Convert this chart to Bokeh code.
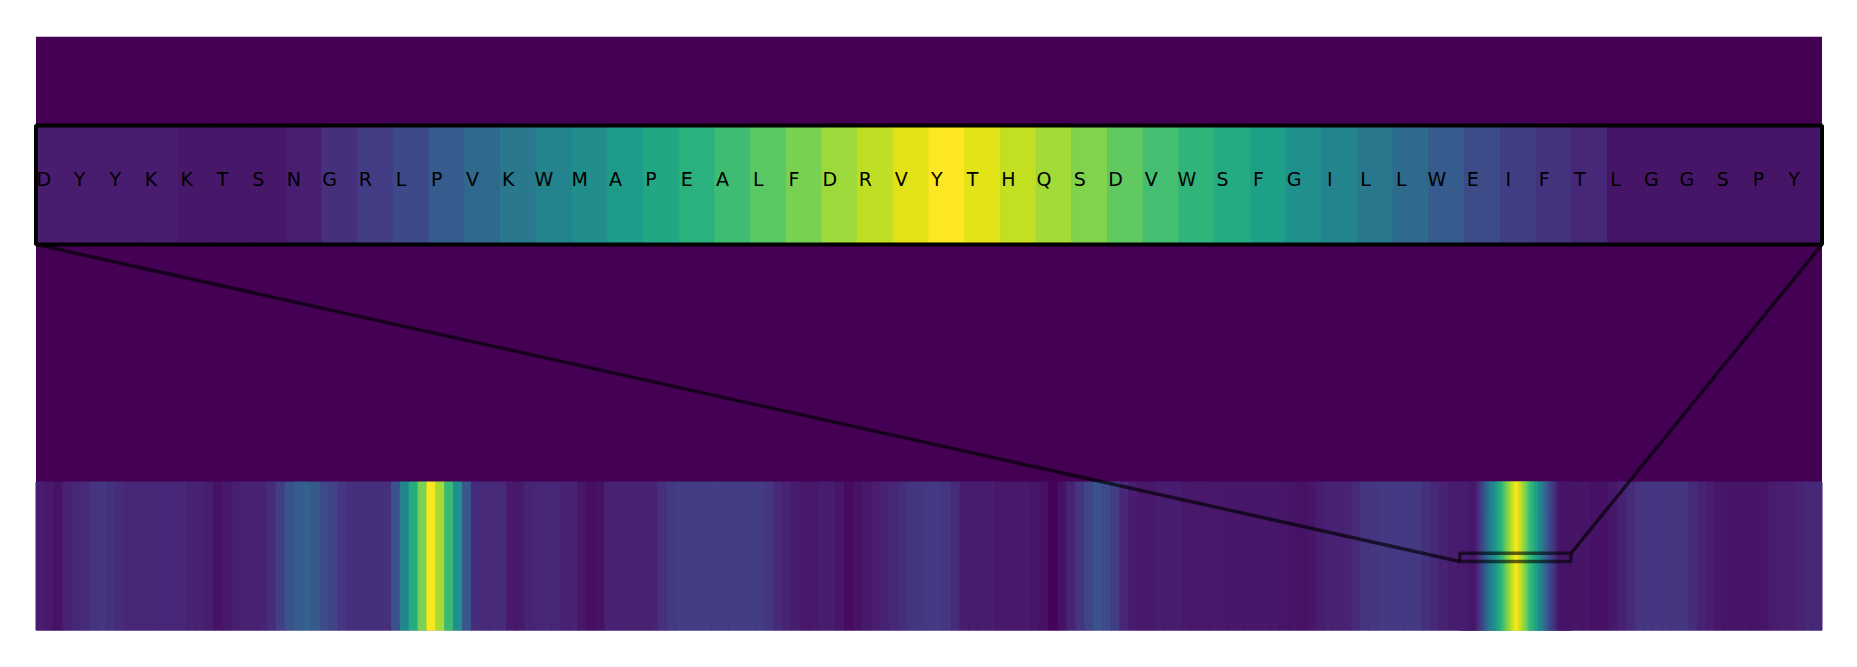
from bokeh.plotting import figure
from bokeh.models import Range1d, LinearColorMapper, ColumnDataSource
from bokeh.palettes import Viridis256
from bokeh.embed import file_html
from bokeh.resources import INLINE
from bokeh.core.properties import value

# ---------------- data ----------------
window_letters = list("DYYKKTSNGRLPVKWMAPEALFDRVYTHQSDVWSFGILLWEIFTLGGSPY")
window_scores = [
    0.075, 0.075, 0.075, 0.075, 0.065, 0.065, 0.065, 0.085, 0.14, 0.18,
    0.22, 0.29, 0.34, 0.40, 0.45, 0.49, 0.55, 0.60, 0.64, 0.69,
    0.745, 0.80, 0.855, 0.905, 0.955, 1.0, 0.96, 0.91, 0.86, 0.81,
    0.755, 0.70, 0.655, 0.615, 0.57, 0.50, 0.45, 0.40, 0.345, 0.29,
    0.23, 0.185, 0.145, 0.115, 0.055, 0.055, 0.055, 0.055, 0.055, 0.055,
]
window_start = 641          # first residue of the zoomed window
bin_size = 4                # residues per value in full_scores
full_scores = [
    0.08, 0.07, 0.05, 0.09, 0.11, 0.12, 0.15, 0.16, 0.145, 0.12,
    0.115, 0.115, 0.115, 0.115, 0.115, 0.115, 0.11, 0.10, 0.09, 0.08,
    0.05, 0.065, 0.085, 0.09, 0.09, 0.10, 0.13, 0.18, 0.25, 0.29,
    0.31, 0.28, 0.23, 0.20, 0.16, 0.14, 0.14, 0.14, 0.14, 0.14,
    0.25, 0.46, 0.62, 0.80, 0.99, 0.87, 0.68, 0.50, 0.27, 0.13,
    0.12, 0.12, 0.12, 0.07, 0.07, 0.10, 0.11, 0.11, 0.11, 0.10,
    0.09, 0.06, 0.04, 0.05, 0.09, 0.10, 0.10, 0.10, 0.09, 0.10,
    0.14, 0.17, 0.18, 0.18, 0.18, 0.18, 0.18, 0.18, 0.18, 0.18,
    0.18, 0.18, 0.16, 0.12, 0.10, 0.08, 0.07, 0.07, 0.08, 0.08,
    0.06, 0.03, 0.05, 0.07, 0.08, 0.10, 0.11, 0.13, 0.15, 0.16,
    0.17, 0.17, 0.16, 0.12, 0.08, 0.075, 0.075, 0.075, 0.07, 0.07,
    0.07, 0.07, 0.06, 0.05, 0.01, 0.05, 0.10, 0.15, 0.21, 0.26,
    0.23, 0.18, 0.11, 0.08, 0.07, 0.07, 0.075, 0.075, 0.075, 0.07,
    0.07, 0.07, 0.07, 0.07, 0.065, 0.065, 0.065, 0.065, 0.065, 0.065,
    0.06, 0.055, 0.05, 0.06, 0.08, 0.09, 0.095, 0.10, 0.12, 0.15,
    0.16, 0.17, 0.17, 0.17, 0.17, 0.17, 0.14, 0.11, 0.10, 0.08,
    0.075, 0.07, 0.16, 0.37, 0.57, 0.77, 0.955, 0.83, 0.635, 0.42,
    0.21, 0.07, 0.055, 0.055, 0.055, 0.05, 0.05, 0.065, 0.09, 0.12,
    0.15, 0.16, 0.16, 0.16, 0.16, 0.16, 0.13, 0.10, 0.075, 0.06,
    0.055, 0.055, 0.055, 0.055, 0.06, 0.08, 0.085, 0.085, 0.095, 0.11,
    0.11,
]

# ---------------- layout ----------------
N = len(full_scores) * bin_size
W = len(window_scores)
span_px = 1786.0
pad_px = 2.5
res_px = span_px / N
win_px = span_px / W

mapper = LinearColorMapper(palette=Viridis256, low=0.0, high=1.0)
cmap = {"field": "v", "transform": mapper}

p = figure(
    width=1849, height=659, output_backend="svg", toolbar_location=None,
    title=None, x_axis_location=None, y_axis_location=None,
    x_range=Range1d(-pad_px / res_px, N + pad_px / res_px),
    y_range=Range1d(0, 4),
    min_border_left=33, min_border_right=25, min_border_top=36, min_border_bottom=29,
)
p.extra_x_ranges = {"win": Range1d(-pad_px / win_px, W + pad_px / win_px)}
p.outline_line_color = None
p.grid.visible = False
p.background_fill_color = "white"
p.border_fill_color = "white"

# main axes background (lowest colour of the map)
p.quad(left=[0], right=[N], bottom=[0], top=[4], fill_color=Viridis256[0], line_color=None)

# full-sequence strip
full_src = ColumnDataSource(dict(
    l=[k * bin_size for k in range(len(full_scores))],
    r=[(k + 1) * bin_size for k in range(len(full_scores))],
    v=full_scores,
))
p.quad(left="l", right="r", bottom=0, top=1, source=full_src,
       fill_color=cmap, line_color=cmap, line_width=1)

# the window drawn at residue resolution in the strip
wstrip = ColumnDataSource(dict(
    l=[window_start + i for i in range(W)],
    r=[window_start + i + 1 for i in range(W)],
    v=window_scores,
))
p.quad(left="l", right="r", bottom=0, top=1, source=wstrip,
       fill_color=cmap, line_color=cmap, line_width=1)

# indicator rectangle + connectors
rect_b, rect_t = 0.465, 0.52
ins_b, ins_t = 2.6, 3.4
p.quad(left=[window_start], right=[window_start + W], bottom=[rect_b], top=[rect_t],
       fill_color=None, line_color="black", line_alpha=0.6, line_width=3.5)
p.segment(x0=[0, N], y0=[ins_b, ins_b], x1=[window_start, window_start + W], y1=[rect_b, rect_t],
          line_color="black", line_alpha=0.65, line_width=3.5)

# inset (zoomed window)
win_src = ColumnDataSource(dict(
    l=list(range(W)), r=[i + 1 for i in range(W)], v=window_scores,
    x=[i + 0.5 for i in range(W)], t=window_letters,
))
p.quad(left="l", right="r", bottom=ins_b, top=ins_t, source=win_src, x_range_name="win",
       fill_color=cmap, line_color=cmap, line_width=1)
p.quad(left=[0], right=[W], bottom=[ins_b], top=[ins_t], x_range_name="win",
       fill_color=None, line_color="black", line_width=4)
p.text(x="x", y=3.04, text="t", source=win_src, x_range_name="win",
       text_font=value("DejaVu Sans"), text_font_size="19px", text_color="black",
       text_align="center", text_baseline="middle", x_offset=-10)

open("out.html", "w").write(file_html(p, INLINE))
